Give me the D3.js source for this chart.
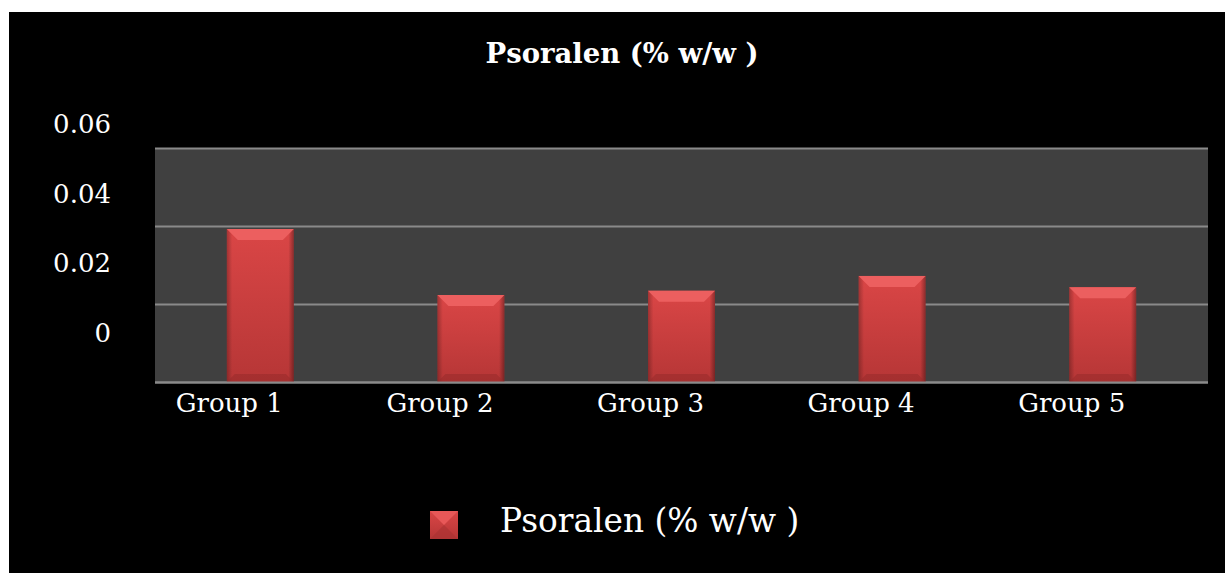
<!DOCTYPE html>
<html lang="en">
<head>
<meta charset="utf-8">
<title>Psoralen chart</title>
<style type="text/css">
  body { margin: 0; background: #ffffff; }
  svg { display: block; }
  text { font-family: "DejaVu Serif", "Liberation Serif", serif; fill: #ffffff; }
</style>
</head>
<body>
<script src="https://cdn.jsdelivr.net/npm/d3@7/dist/d3.min.js"></script>
<script>

var groups = ["Group 1", "Group 2", "Group 3", "Group 4", "Group 5"];
var psoralen = [0.0392, 0.0223, 0.0234, 0.0272, 0.0243];
var yTicks = [0, 0.02, 0.04, 0.06];
var seriesName = "Psoralen (% w/w )";

var w = 1225;
var h = 573;

var svg = d3.select("body")
    .append("svg")
    .attr("width", w)
    .attr("height", h);

// black chart background
svg.append("rect")
    .attr("x", 9).attr("y", 12)
    .attr("width", w - 9).attr("height", h - 12)
    .attr("fill", "#000000");

var plot = { left: 155, right: 1208, top: 148, bottom: 382 };

var x = d3.scaleBand()
    .domain(groups)
    .range([plot.left, plot.right])
    .paddingInner(0.682)
    .paddingOuter(0.341);

var y = d3.scaleLinear()
    .domain([0, 0.06])
    .range([plot.bottom, plot.top]);

// tick labels sit offset from gridlines in the original
var yLabel = d3.scaleLinear()
    .domain([0, 0.06])
    .range([342, 133]);

// plot area
svg.append("rect")
    .attr("x", plot.left).attr("y", plot.top)
    .attr("width", plot.right - plot.left)
    .attr("height", plot.bottom - plot.top)
    .attr("fill", "#404040");

// gridlines
svg.selectAll("line.grid")
    .data(yTicks)
    .enter()
    .append("line")
    .attr("class", "grid")
    .attr("x1", plot.left).attr("x2", plot.right)
    .attr("y1", function(d) { return Math.round(y(d)) + 0.5; })
    .attr("y2", function(d) { return Math.round(y(d)) + 0.5; })
    .attr("stroke", "#8a8a8a")
    .attr("stroke-width", 2);

// y labels
svg.selectAll("text.ylab")
    .data(yTicks)
    .enter()
    .append("text")
    .attr("class", "ylab")
    .attr("x", 111)
    .attr("y", function(d) { return yLabel(d); })
    .attr("text-anchor", "end")
    .attr("font-size", 26)
    .text(function(d) { return d === 0 ? "0" : d3.format(".2f")(d); });

// bar gradients
var defs = svg.append("defs");
var g = defs.append("linearGradient")
    .attr("id", "barFill")
    .attr("x1", 0).attr("y1", 0).attr("x2", 0).attr("y2", 1);
g.append("stop").attr("offset", "0%").attr("stop-color", "#da4646");
g.append("stop").attr("offset", "100%").attr("stop-color", "#b63636");

var gs = defs.append("linearGradient")
    .attr("id", "sideFill")
    .attr("x1", 0).attr("y1", 0).attr("x2", 1).attr("y2", 0);
gs.append("stop").attr("offset", "0%").attr("stop-color", "#000").attr("stop-opacity", 0.25);
gs.append("stop").attr("offset", "8%").attr("stop-color", "#000").attr("stop-opacity", 0);
gs.append("stop").attr("offset", "92%").attr("stop-color", "#000").attr("stop-opacity", 0);
gs.append("stop").attr("offset", "100%").attr("stop-color", "#000").attr("stop-opacity", 0.35);

var bars = svg.selectAll("g.bar")
    .data(psoralen)
    .enter()
    .append("g")
    .attr("class", "bar");

bars.append("rect")
    .attr("x", function(d, i) { return x(groups[i]); })
    .attr("y", function(d) { return y(d); })
    .attr("width", x.bandwidth())
    .attr("height", function(d) { return plot.bottom - y(d); })
    .attr("fill", "url(#barFill)");

bars.append("rect")
    .attr("x", function(d, i) { return x(groups[i]); })
    .attr("y", function(d) { return y(d); })
    .attr("width", x.bandwidth())
    .attr("height", function(d) { return plot.bottom - y(d); })
    .attr("fill", "url(#sideFill)");

// top bevel
bars.append("path")
    .attr("d", function(d, i) {
        var x0 = x(groups[i]), x1 = x0 + x.bandwidth(), t = y(d), b = 11;
        return "M" + x0 + "," + t + "L" + x1 + "," + t + "L" + (x1 - b) + "," + (t + b) +
            "L" + (x0 + b) + "," + (t + b) + "Z";
    })
    .attr("fill", "#ec5f5f");

// bottom bevel
bars.append("path")
    .attr("d", function(d, i) {
        var x0 = x(groups[i]), x1 = x0 + x.bandwidth(), bt = plot.bottom, b = 8;
        return "M" + x0 + "," + bt + "L" + x1 + "," + bt + "L" + (x1 - b) + "," + (bt - b) +
            "L" + (x0 + b) + "," + (bt - b) + "Z";
    })
    .attr("fill", "#9a2c2c")
    .attr("opacity", 0.6);

// baseline on top of bars
svg.append("line")
    .attr("x1", plot.left).attr("x2", plot.right)
    .attr("y1", plot.bottom + 0.5).attr("y2", plot.bottom + 0.5)
    .attr("stroke", "#8a8a8a")
    .attr("stroke-width", 2);

// x labels (the original draws them a little left of the bar centres)
svg.selectAll("text.xlab")
    .data(groups)
    .enter()
    .append("text")
    .attr("class", "xlab")
    .attr("x", function(d) { return x(d) + x.bandwidth() / 2 - 31; })
    .attr("y", 412)
    .attr("text-anchor", "middle")
    .attr("font-size", 26)
    .text(function(d) { return d; });

// title
svg.append("text")
    .attr("x", 622)
    .attr("y", 63)
    .attr("text-anchor", "middle")
    .attr("font-size", 27.5)
    .attr("font-weight", "bold")
    .text(seriesName);

// legend
var leg = svg.append("g").attr("transform", "translate(430,511)");
leg.append("rect")
    .attr("width", 28).attr("height", 28)
    .attr("fill", "url(#barFill)");
leg.append("path")
    .attr("d", "M0,0L28,0L14,14Z")
    .attr("fill", "#e85858");
leg.append("path")
    .attr("d", "M0,28L28,28L14,14Z")
    .attr("fill", "#a83232")
    .attr("opacity", 0.6);
leg.append("text")
    .attr("x", 70)
    .attr("y", 21)
    .attr("font-size", 32.8)
    .text(seriesName);

</script>
</body>
</html>
